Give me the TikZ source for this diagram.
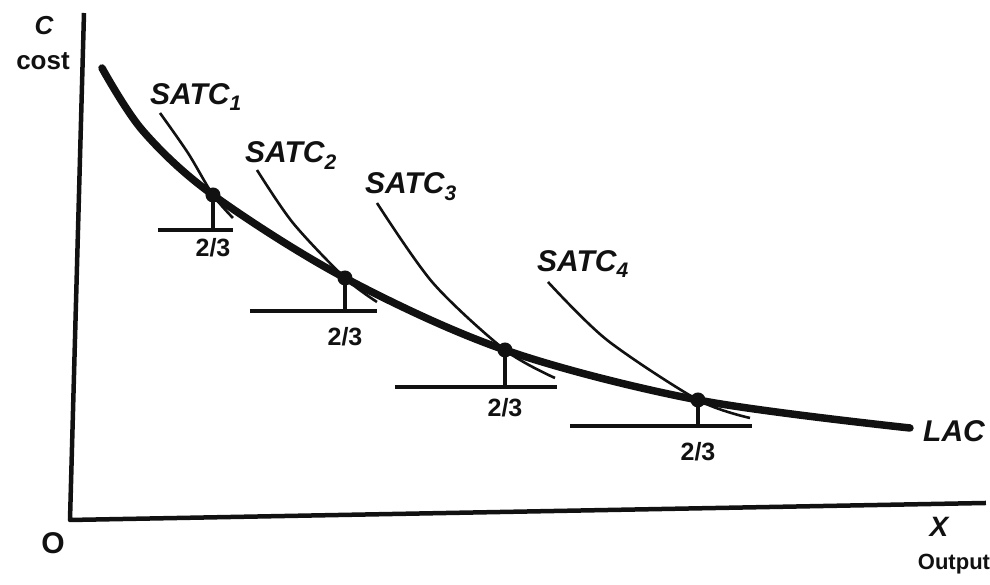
\documentclass[tikz,border=0pt]{standalone}
\usepackage{fontspec}
\setmainfont{Liberation Sans}
\definecolor{inkblack}{HTML}{111111}

\begin{document}
\begin{tikzpicture}[
  x=1pt,
  y=-1pt,
  every node/.style={inkblack, inner sep=0pt},
  axis/.style={inkblack, line width=4.5pt, line join=round},
  lac/.style={inkblack, line width=7.5pt, line cap=round},
  satc/.style={inkblack, line width=2.6pt},
  base/.style={inkblack, line width=3.6pt},
  drop/.style={inkblack, line width=3.4pt},
  curvelabel/.style={font=\fontsize{30}{32}\selectfont\bfseries\itshape},
  axislabel/.style={font=\fontsize{26}{28}\selectfont\bfseries},
  ratio/.style={font=\fontsize{25}{27}\selectfont\bfseries}
]
  % ---- bounding box, pixel grid of the reference ----
  \path (0,0) rectangle (990,585);

  % ---- axes ----
  \coordinate (ytop) at (84,13);
  \coordinate (orig) at (70,520);
  \coordinate (xend) at (986,503);
  \draw[axis] (ytop) -- (orig) -- (xend);

  \node[axislabel, font=\fontsize{26}{28}\selectfont\bfseries\itshape, anchor=base] (clbl) at (44,35) {C};
  \node[axislabel, anchor=base] (costlbl) at (43,70) {cost};
  \node[axislabel, font=\fontsize{30}{32}\selectfont\bfseries, anchor=base] (olbl) at (53,554) {O};
  \node[axislabel, font=\fontsize{28}{30}\selectfont\bfseries\itshape, anchor=base] (xlbl) at (939,537) {X};
  \node[axislabel, font=\fontsize{22}{24}\selectfont\bfseries, anchor=base] (outlbl) at (954,570) {Output};

  % ---- points of tangency ----
  \coordinate (t1) at (213,195);
  \coordinate (t2) at (345,278);
  \coordinate (t3) at (505,350);
  \coordinate (t4) at (698,400);

  % ---- long-run average cost ----
  \coordinate (lacstart) at (102,68);
  \coordinate (lacend) at (910,428);
  \draw[lac] plot[smooth, tension=0.55] coordinates
    {(lacstart) (143,131) (t1) (t2) (t3) (t4) (lacend)};
  \node[curvelabel, anchor=base west] (lac) at (923,442) {LAC};

  % ---- short-run curves ----
  \draw[satc] plot[smooth] coordinates {(160,113) (188,153) (t1) (233,218)};
  \draw[satc] plot[smooth] coordinates {(257,170) (293,223) (t2) (377,302)};
  \draw[satc] plot[smooth] coordinates {(377,203) (433,283) (t3) (555,378)};
  \draw[satc] plot[smooth] coordinates {(548,282) (607,340) (t4) (750,418)};

  \node[curvelabel, anchor=base west] (satc1) at (150,105) {SATC\textsubscript{1}};
  \node[curvelabel, anchor=base west] (satc2) at (245,163) {SATC\textsubscript{2}};
  \node[curvelabel, anchor=base west] (satc3) at (365,194) {SATC\textsubscript{3}};
  \node[curvelabel, anchor=base west] (satc4) at (537,272) {SATC\textsubscript{4}};

  % ---- base lines with drops from the tangency points ----
  \foreach \i/\xa/\xb/\yb/\ly in {1/158/233/230/248, 2/250/377/311/337,
                                  3/395/557/387/408, 4/570/752/426/452}{
    \draw[base] (\xa,\yb) -- (\xb,\yb);
    \draw[drop] (t\i) -- (t\i |- 0,\yb);
    \fill[inkblack] (t\i) circle (7.5pt);
    \node[ratio] (ratio\i) at (t\i |- 0,\ly) {2/3};
  }
\end{tikzpicture}
\end{document}
